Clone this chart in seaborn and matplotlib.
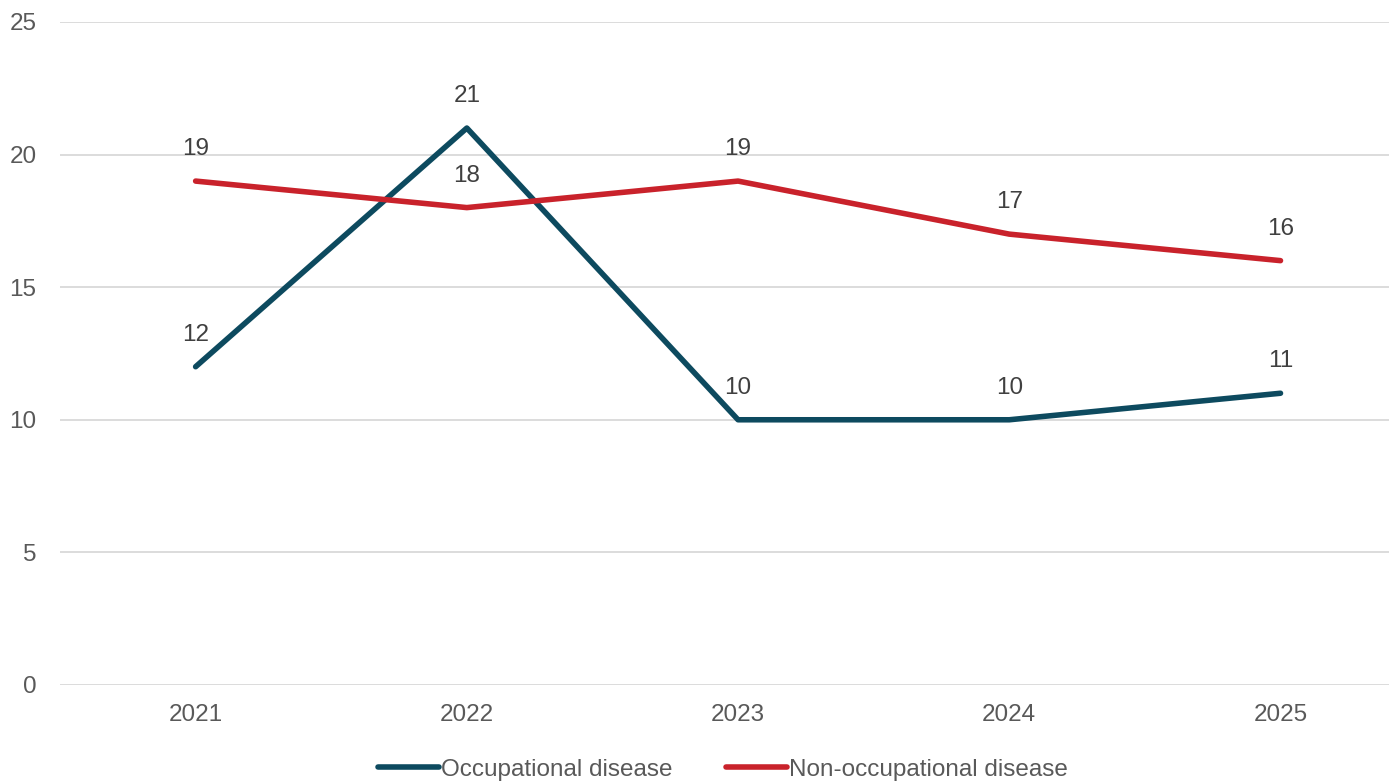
import matplotlib
matplotlib.use("Agg")
import matplotlib.pyplot as plt
import seaborn as sns
import pandas as pd

years = ["2021", "2022", "2023", "2024", "2025"]
occupational = [12, 21, 10, 10, 11]
non_occupational = [19, 18, 19, 17, 16]
series_names = ["Occupational disease", "Non-occupational disease"]
colors = ["#0d4a5f", "#c9222b"]
y_ticks = [0, 5, 10, 15, 20, 25]

sns.set_theme(style="white")
plt.rcParams["font.family"] = ["Liberation Sans", "DejaVu Sans"]
text_color = "#595959"
fs = 17.5

df = pd.DataFrame({
    "year": years * 2,
    "value": occupational + non_occupational,
    "series": [series_names[0]] * len(years) + [series_names[1]] * len(years),
})
df["x"] = df["year"].map({y: i for i, y in enumerate(years)})

fig = plt.figure(figsize=(13.89, 7.84), dpi=100)
ax = fig.add_axes([0.0432, 0.1263, 0.9568, 0.8457])

sns.lineplot(data=df, x="x", y="value", hue="series", palette=colors,
             linewidth=4.0, ax=ax, legend=True, solid_capstyle="round")

for vals in [occupational, non_occupational]:
    for i, v in enumerate(vals):
        ax.annotate(str(v), (i, v), xytext=(0, 23), textcoords="offset points",
                    ha="center", va="center", fontsize=fs, color="#404040")

ax.set_xlim(-0.5, 4.40)
ax.set_ylim(0, 25)
ax.set_yticks(y_ticks)
ax.set_xticks(range(len(years)))
ax.set_xticklabels(years)
ax.grid(axis="y", color="#d9d9d9", linewidth=1.3)
ax.set_axisbelow(True)
for s in ax.spines.values():
    s.set_visible(False)
ax.tick_params(axis="both", length=0, labelsize=fs, colors=text_color)
ax.tick_params(axis="x", pad=14)
ax.tick_params(axis="y", pad=17)
ax.set_xlabel("")
ax.set_ylabel("")

leg = ax.legend(loc="center", bbox_to_anchor=(0.499, -0.128), ncol=2, frameon=False,
                fontsize=fs, handlelength=2.5, handletextpad=0.1, columnspacing=2.2)
for t in leg.get_texts():
    t.set_color(text_color)
for h in leg.get_lines():
    h.set_linewidth(4.0)

fig.savefig("out.png", dpi=100)
